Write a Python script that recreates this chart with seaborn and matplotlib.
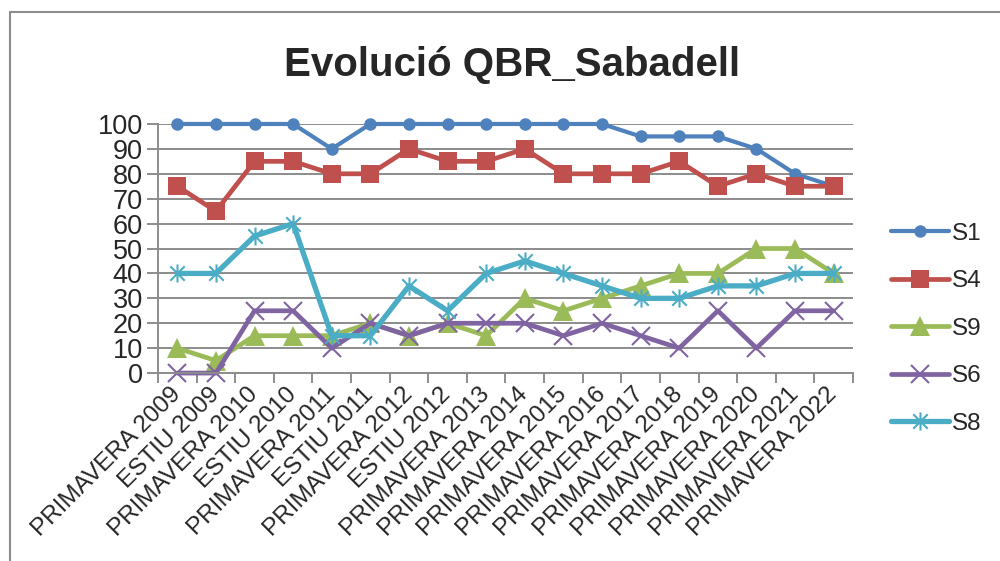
import numpy as np
import pandas as pd
import matplotlib
matplotlib.use("Agg")
import matplotlib.pyplot as plt
from matplotlib.path import Path
from matplotlib.lines import Line2D
import seaborn as sns

# Survey periods (x categories)
periods = [
    "PRIMAVERA 2009", "ESTIU 2009", "PRIMAVERA 2010", "ESTIU 2010",
    "PRIMAVERA 2011", "ESTIU 2011", "PRIMAVERA 2012", "ESTIU 2012",
    "PRIMAVERA 2013", "PRIMAVERA 2014", "PRIMAVERA 2015", "PRIMAVERA 2016",
    "PRIMAVERA 2017", "PRIMAVERA 2018", "PRIMAVERA 2019", "PRIMAVERA 2020",
    "PRIMAVERA 2021", "PRIMAVERA 2022",
]

# QBR index per sampling site
s1 = [100, 100, 100, 100, 90, 100, 100, 100, 100, 100, 100, 100, 95, 95, 95, 90, 80, 75]
s4 = [75, 65, 85, 85, 80, 80, 90, 85, 85, 90, 80, 80, 80, 85, 75, 80, 75, 75]
s9 = [10, 5, 15, 15, 15, 20, 15, 20, 15, 30, 25, 30, 35, 40, 40, 50, 50, 40]
s6 = [0, 0, 25, 25, 10, 20, 15, 20, 20, 20, 15, 20, 15, 10, 25, 10, 25, 25]
s8 = [40, 40, 55, 60, 15, 15, 35, 25, 40, 45, 40, 35, 30, 30, 35, 35, 40, 40]

series_names = ["S1", "S4", "S9", "S6", "S8"]
series_values = [s1, s4, s9, s6, s8]

yticks = [0, 10, 20, 30, 40, 50, 60, 70, 80, 90, 100]

sns.set_theme(style="white")
plt.rcParams["font.family"] = ["Liberation Sans", "DejaVu Sans"]

# Asterisk marker: an "x" crossed by a vertical bar
star_path = Path(
    [(-1, -1), (1, 1), (-1, 1), (1, -1), (0, -1.25), (0, 1.25)],
    [Path.MOVETO, Path.LINETO, Path.MOVETO, Path.LINETO, Path.MOVETO, Path.LINETO],
)

styles = {
    "S1": dict(color="#4F81BD", marker="o", markersize=9, lw=3.0, mew=0),
    "S4": dict(color="#C0504D", marker="s", markersize=13, lw=3.4, mew=0),
    "S9": dict(color="#9BBB59", marker="^", markersize=14, lw=3.4, mew=0),
    "S6": dict(color="#8064A2", marker="x", markersize=13, lw=3.4, mew=1.5),
    "S8": dict(color="#4BACC6", marker=star_path, markersize=13, lw=3.8, mew=1.5),
}

fig = plt.figure(figsize=(10, 5.61), dpi=100)
ax = fig.add_axes([0.158, 0.335, 0.695, 0.444])

x = np.arange(len(periods))
for name, vals in zip(series_names, series_values):
    st = styles[name]
    df = pd.DataFrame({"period": x, "QBR": vals})
    sns.lineplot(
        data=df, x="period", y="QBR", ax=ax, label=name,
        color=st["color"], marker=st["marker"], markersize=st["markersize"],
        linewidth=st["lw"], markeredgewidth=st["mew"],
        markeredgecolor=st["color"], markerfacecolor=st["color"],
        solid_joinstyle="round", solid_capstyle="round", clip_on=False,
    )

grid_color = "#8C8C8C"
ax.set_xlim(-0.5, len(periods) - 0.5)
ax.set_ylim(0, 100)
ax.set_yticks(yticks)
ax.set_yticklabels([str(v) for v in yticks], fontsize=19.5)
ax.yaxis.grid(True, color=grid_color, linewidth=1.4)
ax.xaxis.grid(False)
ax.set_axisbelow(True)

ax.set_xticks(x)
ax.set_xticklabels(periods, fontsize=17.5, rotation=45, ha="right",
                   va="center", rotation_mode="anchor")
ax.set_xticks(np.arange(-0.5, len(periods)), minor=True)
ax.tick_params(axis="x", which="major", length=0, pad=13)
ax.tick_params(axis="x", which="minor", length=7, width=1.4, color=grid_color,
               direction="out", bottom=True)
ax.tick_params(axis="y", length=8, width=1.4, color=grid_color, direction="out",
               left=True, pad=3)
ax.set_xlabel("")
ax.set_ylabel("")

for side in ["top", "right"]:
    ax.spines[side].set_visible(False)
for side in ["left", "bottom"]:
    ax.spines[side].set_color(grid_color)
    ax.spines[side].set_linewidth(1.4)

ax.legend_.remove()
handles, labels = ax.get_legend_handles_labels()
fig.legend(handles, labels, loc="center left", bbox_to_anchor=(0.891, 0.414),
           frameon=False, fontsize=17.5, handlelength=2.4, handletextpad=0.12,
           labelspacing=1.05, borderpad=0, borderaxespad=0)

fig.text(0.512, 1 - 65 / 561, "Evolució QBR_Sabadell", ha="center",
         va="center", fontsize=29, fontweight="bold")

# Chart frame (left and top edges)
frame_color = "#8C8C8C"
fig.add_artist(Line2D([0.010, 0.010], [0.0, 1 - 12 / 561], transform=fig.transFigure,
                      color=frame_color, lw=1.5))
fig.add_artist(Line2D([0.010, 1.0], [1 - 12 / 561, 1 - 12 / 561],
                      transform=fig.transFigure, color=frame_color, lw=1.5))

fig.savefig("out.png", dpi=100, facecolor="white")
